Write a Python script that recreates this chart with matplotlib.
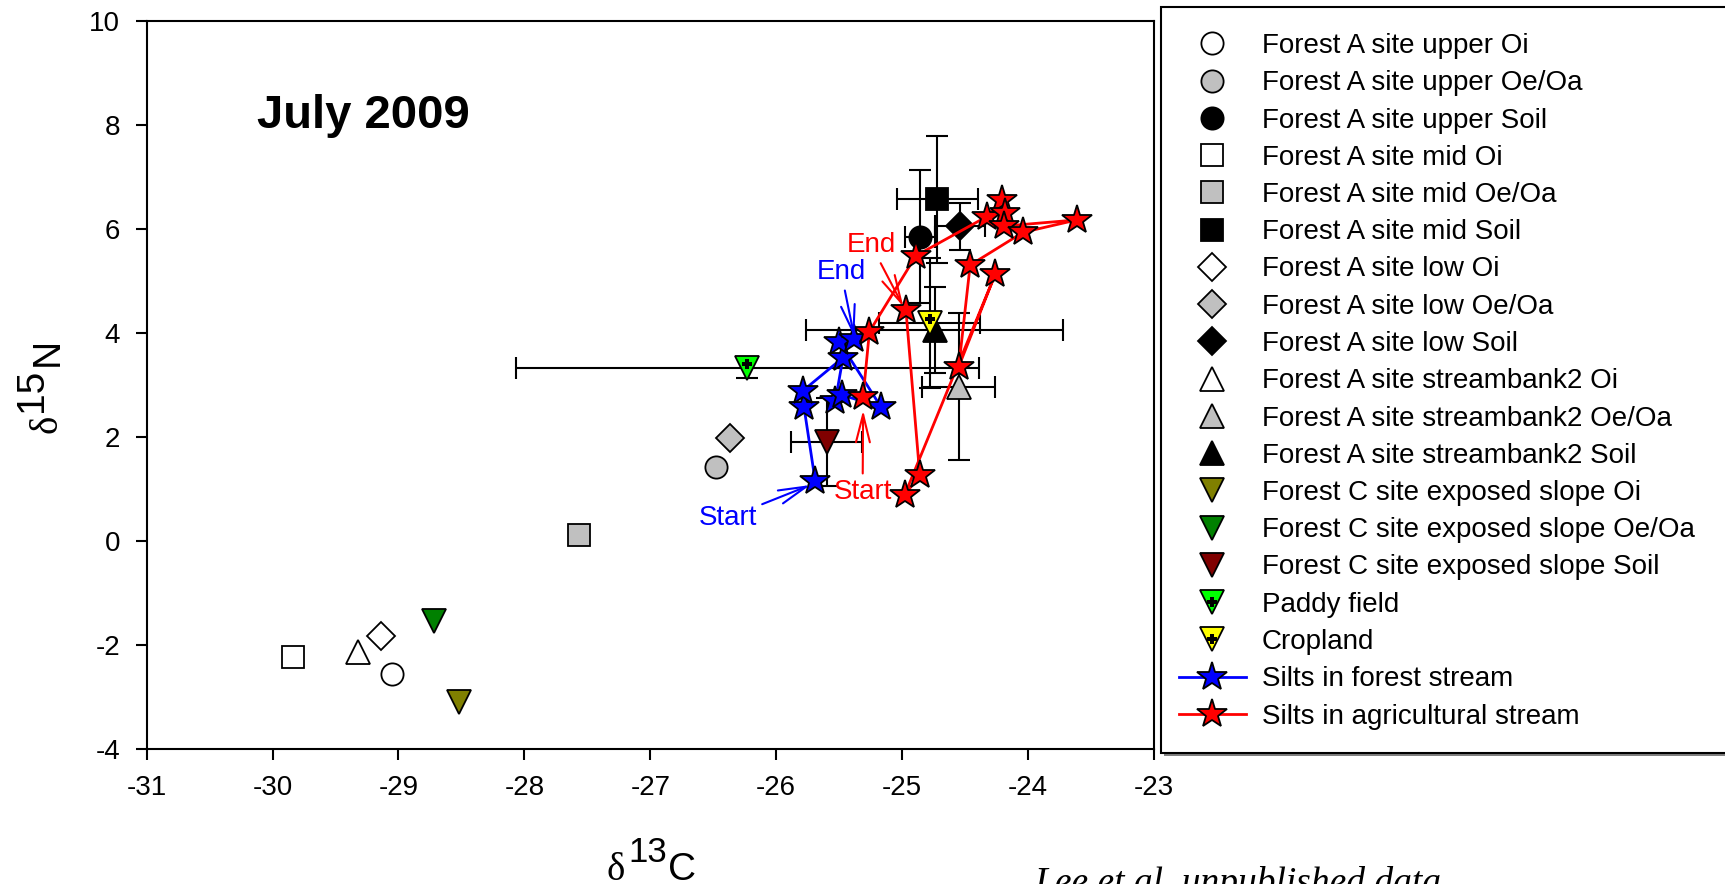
import matplotlib
matplotlib.use("Agg")
import matplotlib.pyplot as plt
from matplotlib.lines import Line2D
from matplotlib.patches import Rectangle

plt.rcParams["font.family"] = ["Liberation Sans", "DejaVu Sans"]
plt.rcParams["axes.unicode_minus"] = False

FIG_W, FIG_H = 1725, 884

# end-member sources (d13C, d15N) with their error bars
source_names = [
    "Forest A site upper Oi", "Forest A site upper Oe/Oa", "Forest A site upper Soil",
    "Forest A site mid Oi", "Forest A site mid Oe/Oa", "Forest A site mid Soil",
    "Forest A site low Oi", "Forest A site low Oe/Oa", "Forest A site low Soil",
    "Forest A site streambank2 Oi", "Forest A site streambank2 Oe/Oa", "Forest A site streambank2 Soil",
    "Forest C site exposed slope Oi", "Forest C site exposed slope Oe/Oa", "Forest C site exposed slope Soil",
    "Paddy field", "Cropland",
]
source_d13c = [-29.05, -26.48, -24.86, -29.84, -27.57, -24.72, -29.14, -26.37, -24.54,
               -29.32, -24.55, -24.74, -28.52, -28.72, -25.60, -26.23, -24.78]
source_d15n = [-2.56, 1.41, 5.85, -2.23, 0.11, 6.57, -1.83, 1.98, 6.05,
               -2.14, 2.96, 4.05, -3.11, -1.54, 1.90, 3.32, 4.19]
source_d13c_err = [0, 0, 0.12, 0, 0, 0.32, 0, 0, 0.20,
                   0, 0.29, 1.02, 0, 0, 0.28, 1.84, 0.40]
source_d15n_err = [0, 0, 1.27, 0, 0, 1.22, 0, 0, 0.45,
                   0, 1.41, 0.82, 0, 0, 0.85, 0.19, 1.25]

# silt samples, in sampling order (Start -> End)
forest_silt_d13c = [-25.69, -25.78, -25.79, -25.47, -25.53, -25.48, -25.17, -25.50, -25.38]
forest_silt_d15n = [1.14, 2.58, 2.88, 3.52, 2.69, 2.80, 2.58, 3.83, 3.87]
agri_silt_d13c = [-25.31, -25.26, -24.89, -24.33, -24.21, -24.18, -24.19, -23.61,
                  -24.04, -24.46, -24.55, -24.26, -24.98, -24.86, -24.97]
agri_silt_d15n = [2.77, 4.02, 5.48, 6.23, 6.56, 6.30, 6.05, 6.17,
                  5.93, 5.30, 3.35, 5.13, 0.88, 1.26, 4.44]

# styles
source_markers = ["o"] * 3 + ["s"] * 3 + ["D"] * 3 + ["^"] * 3 + ["v"] * 5
source_colors = ["white", "#c0c0c0", "black"] * 4 + ["#808000", "#008000", "#800000", "#00ff00", "#ffff00"]
marker_sizes = {"o": 16, "s": 15.5, "D": 14, "^": 17, "v": 17}
STAR_MS = 22


def px_text(x_px, y_px, s, **kw):
    fig.text(x_px / FIG_W, 1 - y_px / FIG_H, s, **kw)


fig = plt.figure(figsize=(FIG_W / 100, FIG_H / 100), dpi=100)
ax = fig.add_axes([146.6 / FIG_W, 1 - 748.7 / FIG_H, (1154 - 146.6) / FIG_W, 728 / FIG_H])

# error bars first so markers sit on top
for x, y, xe, ye in zip(source_d13c, source_d15n, source_d13c_err, source_d15n_err):
    if xe or ye:
        ax.errorbar(x, y, xerr=xe if xe else None, yerr=ye if ye else None, fmt="none",
                    ecolor="black", elinewidth=1.5, capsize=8, capthick=1.5, zorder=2)

handles = []
for i, name in enumerate(source_names):
    m = source_markers[i]
    ax.plot(source_d13c[i], source_d15n[i], marker=m, ms=marker_sizes[m], mfc=source_colors[i],
            mec="black", mew=1.3, ls="none", zorder=3)
    h = Line2D([], [], marker=m, ms=marker_sizes[m], mfc=source_colors[i], mec="black", mew=1.3, ls="none")
    if name in ("Paddy field", "Cropland"):
        ax.plot(source_d13c[i], source_d15n[i] + 0.07, marker="P", ms=7, color="black", mew=0, ls="none", zorder=3)
        h = (h, Line2D([], [], marker="P", ms=7, color="black", mew=0, ls="none"))
    handles.append(h)

ax.plot(forest_silt_d13c, forest_silt_d15n, color="#0000ff", lw=2, marker="*", ms=STAR_MS,
        mfc="#0000ff", mec="black", mew=1.3, zorder=4)
ax.plot(agri_silt_d13c, agri_silt_d15n, color="#ff0000", lw=2, marker="*", ms=STAR_MS,
        mfc="#ff0000", mec="black", mew=1.3, zorder=5)
handles.append(Line2D([], [], color="#0000ff", lw=2, marker="*", ms=STAR_MS, mfc="#0000ff", mec="black", mew=1.3))
handles.append(Line2D([], [], color="#ff0000", lw=2, marker="*", ms=STAR_MS, mfc="#ff0000", mec="black", mew=1.3))
labels = source_names + ["Silts in forest stream", "Silts in agricultural stream"]

arrow = dict(arrowstyle="->,head_length=1.0,head_width=0.25", lw=1.5, shrinkA=2, shrinkB=0)
ax.annotate("Start", xy=(forest_silt_d13c[0] - 0.04, forest_silt_d15n[0] - 0.07), xytext=(-26.386, 0.437),
            color="#0000ff", fontsize=20, ha="center", va="center", arrowprops=dict(arrow, color="#0000ff"), zorder=6)
ax.annotate("End", xy=(forest_silt_d13c[-1], forest_silt_d15n[-1] + 0.05), xytext=(-25.485, 5.167),
            color="#0000ff", fontsize=20, ha="center", va="center", arrowprops=dict(arrow, color="#0000ff"), zorder=6)
ax.annotate("Start", xy=(agri_silt_d13c[0], agri_silt_d15n[0] - 0.26), xytext=(-25.314, 0.936),
            color="#ff0000", fontsize=20, ha="center", va="center", arrowprops=dict(arrow, color="#ff0000"), zorder=6)
ax.annotate("End", xy=(agri_silt_d13c[-1] - 0.02, agri_silt_d15n[-1] + 0.06), xytext=(-25.246, 5.687),
            color="#ff0000", fontsize=20, ha="center", va="center", arrowprops=dict(arrow, color="#ff0000"), zorder=6)

ax.text(-30.125, 7.93, "July 2009", fontsize=34, fontweight="bold", va="baseline")

ax.set_xlim(-31, -23)
ax.set_ylim(-4, 10)
ax.set_xticks(range(-31, -22))
ax.set_yticks(range(-4, 11, 2))
ax.tick_params(direction="out", length=8, width=1.5, labelsize=20, pad=11, top=False, right=False)
for sp in ax.spines.values():
    sp.set_linewidth(1.5)

# axis titles built from pieces so the superscripts stay full size
px_text(607, 880, "\u03b4", family="Liberation Serif", fontsize=28, va="baseline")
px_text(628, 862, "13", fontsize=25, va="baseline")
px_text(668, 880, "C", fontsize=28, va="baseline")
px_text(57, 433, "\u03b4", family="Liberation Serif", fontsize=28, rotation=90,
        rotation_mode="anchor", ha="left", va="baseline")
px_text(42, 412, "15", fontsize=28, rotation=90, rotation_mode="anchor", ha="left", va="baseline")
px_text(58, 366, "N", fontsize=28, rotation=90, rotation_mode="anchor", ha="left", va="baseline")

px_text(1034, 893, "Lee et al. unpublished data", family="Liberation Serif", style="italic",
        fontsize=27, va="baseline")

ax.legend(handles, labels, loc="upper left", bbox_to_anchor=(1179 / FIG_W, 1 - 33 / FIG_H),
          bbox_transform=fig.transFigure, frameon=False, fontsize=20, borderpad=0, borderaxespad=0,
          handlelength=2.41, handletextpad=0.58, labelspacing=0.405, numpoints=1)
fig.add_artist(Rectangle((1164 / FIG_W, 1 - 756 / FIG_H), 570 / FIG_W, 746 / FIG_H,
                         transform=fig.transFigure, fill=True, fc="#808080", ec="none", zorder=-2))
fig.add_artist(Rectangle((1161 / FIG_W, 1 - 753 / FIG_H), 570 / FIG_W, 746 / FIG_H,
                         transform=fig.transFigure, fill=True, fc="white", ec="black", lw=1.5, zorder=-1))

fig.savefig("out.png", dpi=100)
